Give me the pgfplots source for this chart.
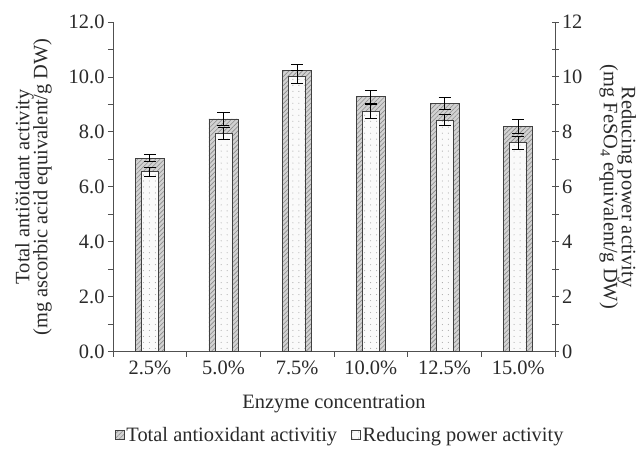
\documentclass[border=0pt]{standalone}
\usepackage{fontspec}
\setmainfont{Liberation Serif}
\usepackage{pgfplots}
\pgfplotsset{compat=1.18}
\usetikzlibrary{patterns,patterns.meta}

\definecolor{axgray}{HTML}{505050}
\definecolor{txt}{HTML}{2A2A2A}

\pgfplotstableread{
x t te r re
0 7.05 0.12 6.55 0.17
1 8.47 0.24 7.96 0.22
2 10.22 0.25 10.01 0.23
3 9.28 0.24 8.75 0.25
4 9.03 0.21 8.43 0.20
5 8.20 0.25 7.60 0.24
}\datatab

\tikzset{
  outerbar/.style={draw=black!75, line width=0.9pt, fill=gray!35,
    postaction={pattern={Lines[angle=45,distance=3.2pt,line width=0.6pt]}, pattern color=gray!90}},
  innerbar/.style={draw=black!75, line width=0.9pt, fill=gray!4,
    postaction={pattern={Dots[distance=6pt,radius=0.55pt]}, pattern color=gray!70}},
}

\newcommand{\lbl}{\fontsize{20.5}{16}\selectfont}

\begin{document}
\begin{tikzpicture}
\path[use as bounding box] (-113bp,-98.3bp) rectangle (527bp,351.7bp);

\begin{axis}[
  scale only axis,
  width=442bp, height=329.7bp,
  xmin=-0.5, xmax=5.5, ymin=0, ymax=12,
  axis y line*=left, axis x line*=bottom,
  axis line style={axgray, line width=0.9pt},
  xtick={0,...,5},
  xticklabels={2.5\%,5.0\%,7.5\%,10.0\%,12.5\%,15.0\%},
  major x tick style={draw=none},
  minor xtick={-0.5,0.5,...,5.5},
  minor x tick style={axgray, line width=0.9pt},
  ytick={0,2,...,12},
  minor y tick num=1,
  y tick style={axgray, line width=0.9pt},
  tick align=outside,
  major tick length=5bp, minor tick length=5bp,
  /pgf/number format/assume math mode=true,
  yticklabel style={/pgf/number format/.cd, fixed, fixed zerofill, precision=1},
  tick label style={font=\lbl, text=txt},
  xticklabel style={yshift=-1bp},
  ybar, bar width=29bp, bar shift=0pt,
  xlabel={Enzyme concentration},
  xlabel style={at={(axis description cs:0.5,-0.158)}, anchor=center, font=\lbl, text=txt},
  ylabel={Total antiŏidant activity\\[-1.5bp](mg ascorbic acid equivalent/g DW)},
  ylabel style={at={(axis description cs:-0.18,0.5)}, anchor=center, align=center, font=\lbl, text=txt},
  legend style={at={(axis description cs:0.514,-0.252)}, anchor=center, draw=none, fill=none,
    legend columns=2, font=\lbl, text=txt,
    /tikz/every even column/.append style={column sep=12bp}},
  legend image code/.code={\draw[#1, line width=0.6pt] (0bp,-4.5bp) rectangle (9bp,4.5bp);},
]
\addplot[outerbar, error bars/.cd, y dir=both, y explicit,
  error bar style={black, line width=0.9pt},
  error mark options={rotate=90, mark size=6bp, black, line width=0.9pt}]
  table[x=x, y=t, y error=te] {\datatab};
\addlegendentry{Total antioxidant activitiy}
\addlegendimage{innerbar}
\addlegendentry{Reducing power activity}
\end{axis}

\begin{axis}[
  scale only axis,
  width=442bp, height=329.7bp,
  xmin=-0.5, xmax=5.5, ymin=0, ymax=12,
  axis y line*=right, axis x line=none,
  axis line style={axgray, line width=0.9pt},
  ytick={0,2,...,12},
  minor y tick num=1,
  y tick style={axgray, line width=0.9pt},
  tick align=center,
  major tick length=7bp, minor tick length=7bp,
  /pgf/number format/assume math mode=true,
  tick label style={font=\lbl, text=txt},
  ybar, bar width=17bp, bar shift=0pt,
  ylabel={Reducing power activity\\[-1.5bp](mg FeSO\textsubscript{4} equivalent/g DW)},
  ylabel style={at={(axis description cs:1.142,0.5)}, anchor=center, rotate=180, align=center, font=\lbl, text=txt},
]
\addplot[innerbar, error bars/.cd, y dir=both, y explicit,
  error bar style={black, line width=0.9pt},
  error mark options={rotate=90, mark size=6bp, black, line width=0.9pt}]
  table[x=x, y=r, y error=re] {\datatab};
\end{axis}
\end{tikzpicture}
\end{document}
